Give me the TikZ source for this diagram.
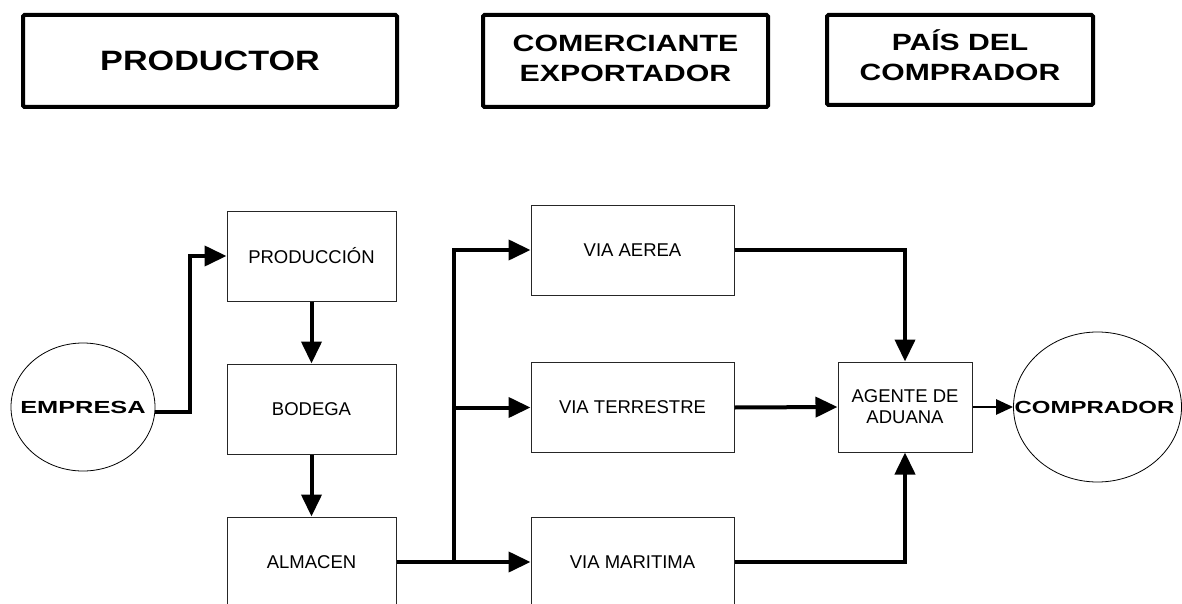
\documentclass[tikz,border=0pt]{standalone}
\usepackage{fontspec}
\setmainfont{Liberation Sans}
\usetikzlibrary{arrows.meta,shapes.geometric}
% widened bold lettering for the headings
\newcommand\widetext[2]{\scalebox{#1}[1]{#2}}
\begin{document}
\begin{tikzpicture}[x=1pt,y=-1pt,
  title/.style={draw, line width=4pt, rounded corners=1.5pt, inner sep=0pt,
    minimum height=92pt, align=center,
    font=\bfseries\fontsize{23.5}{30}\selectfont},
  stepbox/.style={draw=black!85, line width=1pt, inner sep=0pt,
    minimum width=169pt, minimum height=90pt, align=center,
    font=\fontsize{18.5}{21}\selectfont},
  wayb/.style={stepbox, minimum width=203pt},
  party/.style={ellipse, draw, line width=0.8pt, inner sep=0pt,
    font=\bfseries\fontsize{17.5}{20}\selectfont},
  conn/.style={line width=4pt, line join=miter, -{Triangle[length=22pt,width=20pt]}},
  thinconn/.style={line width=2.5pt, -{Triangle[length=17pt,width=15pt]}}
]
\useasboundingbox (0,0) rectangle (1182,604);
\clip (0,0) rectangle (1182,604);

% headings
\node[title, minimum width=374pt, font=\bfseries\fontsize{28}{30}\selectfont] (hprod) at (210,61)
  {\widetext{1.22}{PRODUCTOR}};
\node[title, minimum width=285pt] (hexp) at (625.5,61)
  {\widetext{1.29}{\begin{tabular}{@{}c@{}}COMERCIANTE\\EXPORTADOR\end{tabular}}};
\node[title, minimum width=266pt, minimum height=90pt] (hbuy) at (960,60)
  {\widetext{1.28}{\begin{tabular}{@{}c@{}}PAÍS DEL\\COMPRADOR\end{tabular}}};

% producer side
\node[party, minimum width=144pt, minimum height=128pt] (empresa) at (83,407)
  {\makebox[0pt]{\widetext{1.45}{EMPRESA}}};
\node[stepbox] (prod) at (311.5,256) {PRODUCCIÓN};
\node[stepbox] (bodega) at (311.5,409) {BODEGA};
\node[stepbox] (almacen) at (311.5,562) {ALMACEN};

% transport routes
\node[wayb] (aerea) at (632.5,250) {VIA AEREA};
\node[wayb] (terrestre) at (632.5,407.5) {VIA TERRESTRE};
\node[wayb] (maritima) at (632.5,562) {VIA MARITIMA};

% buyer side
\node[stepbox, minimum width=134pt] (agente) at (905,407) {AGENTE DE\\ADUANA};
\node[party, minimum width=168pt, minimum height=150pt] (comprador) at (1097.5,407)
  {\makebox[0pt]{\hspace{-6pt}\widetext{1.37}{COMPRADOR}}};

% connectors
\draw[conn] ([yshift=-5pt]empresa.east) -- ++(35,0) |- (prod.west);
\draw[conn] (prod.south) -- (bodega.north);
\draw[conn] (bodega.south) -- (almacen.north);

\coordinate (split) at (454,562);
\draw[conn] (almacen.east) -- (maritima.west);
\draw[conn] (split) |- (aerea.west);
\draw[conn] (split |- terrestre.west) -- (terrestre.west);

\draw[conn] (aerea.east) -| (agente.north);
\draw[conn] (terrestre.east) -- (agente.west);
\draw[conn] (maritima.east) -| (agente.south);
\draw[thinconn] (agente.east) -- (comprador.west);
\end{tikzpicture}
\end{document}
